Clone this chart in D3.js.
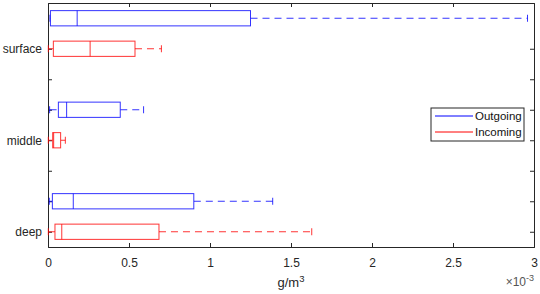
<!DOCTYPE html>
<html>
<head>
<meta charset="utf-8">
<script src="https://cdn.jsdelivr.net/npm/d3@7"></script>
<style>
  body { margin: 0; background: #fff; }
  svg { display: block; font-family: "Liberation Sans", Arial, sans-serif; }
</style>
</head>
<body>
<svg id="chart"></svg>
<script>
/* DATA (values in units of 1e-3 g/m^3) */
const groups = ["surface", "middle", "deep"];
const seriesNames = ["Outgoing", "Incoming"];
const seriesColors = ["#0000ff", "#ff0000"];
// [lower whisker, q1, median, q3, upper whisker]
const outgoing = [
  [0.012, 0.015, 0.18, 1.25, 2.96],
  [0.01, 0.064, 0.115, 0.446, 0.59],
  [0.008, 0.027, 0.156, 0.90, 1.387]
];
const incoming = [
  [0.002, 0.033, 0.26, 0.537, 0.70],
  [0.002, 0.029, 0.035, 0.078, 0.107],
  [0.002, 0.043, 0.085, 0.685, 1.628]
];
// box positions on the category axis (1 = bottom)
const outgoingPos = [8, 5, 2];
const incomingPos = [7, 4, 1];
const yTicks = [1, 2, 3, 4, 5, 6, 7];
const yTickLabels = { 1: "deep", 4: "middle", 7: "surface" };
const xTicks = [0, 0.5, 1, 1.5, 2, 2.5, 3];

/* LAYOUT */
const width = 540, height = 294;
const margin = { top: 3, right: 6, bottom: 47, left: 48 };

const svg = d3.select("#chart").attr("width", width).attr("height", height);

const xScale = d3.scaleLinear()
  .domain([0, 3])
  .range([margin.left, width - margin.right]);

const yScale = d3.scaleLinear()
  .domain([0.5, 8.5])
  .range([height - margin.bottom, margin.top]);

const boxHalf = (yScale(0) - yScale(0.25));
const capHalf = 3.5;

// axes
const axisColor = "#262626";
const bottomAxis = svg.append("g")
  .attr("transform", `translate(0, ${height - margin.bottom})`)
  .call(d3.axisBottom(xScale).tickValues(xTicks).tickSize(-4).tickPadding(9)
    .tickFormat(d => d3.format("")(d)));
const topAxis = svg.append("g")
  .attr("transform", `translate(0, ${margin.top})`)
  .call(d3.axisTop(xScale).tickValues(xTicks).tickSize(-4).tickFormat(""));
const leftAxis = svg.append("g")
  .attr("transform", `translate(${margin.left}, 0)`)
  .call(d3.axisLeft(yScale).tickValues(yTicks).tickSize(-4).tickPadding(6)
    .tickFormat(d => yTickLabels[d] || ""));
const rightAxis = svg.append("g")
  .attr("transform", `translate(${width - margin.right}, 0)`)
  .call(d3.axisRight(yScale).tickValues(yTicks).tickSize(-4).tickFormat(""));

[bottomAxis, topAxis, leftAxis, rightAxis].forEach(g => {
  g.select(".domain").attr("stroke", axisColor).attr("stroke-width", 1);
  g.selectAll(".tick line").attr("stroke", axisColor);
  g.selectAll(".tick text").attr("fill", axisColor).style("font-size", "12px");
});
bottomAxis.selectAll(".tick text").attr("dy", "0.9em");
// hide the tick marks at the axis ends like the reference
bottomAxis.selectAll(".tick").filter(d => d === 0 || d === 3).select("line").remove();
topAxis.selectAll(".tick").filter(d => d === 0 || d === 3).select("line").remove();

// axis labels
svg.append("text")
  .attr("x", 291).attr("y", 287)
  .attr("text-anchor", "middle")
  .attr("fill", axisColor)
  .style("font-size", "13px")
  .html('g/m<tspan dy="-5" style="font-size:9.5px">3</tspan>');

svg.append("text")
  .attr("x", width - margin.right).attr("y", 286)
  .attr("text-anchor", "end")
  .attr("fill", "#555")
  .style("font-size", "12px")
  .html('×10<tspan dy="-5" style="font-size:9px">-3</tspan>');

// boxes
function drawBoxes(data, positions, color, cls) {
  const g = svg.append("g").attr("class", cls)
    .attr("stroke", color).attr("fill", "none").attr("stroke-width", 1)
    .attr("stroke-opacity", 0.8);
  const rows = data.map((d, i) => ({ v: d, p: positions[i] }));

  // whiskers (dashed)
  g.selectAll(".wlo").data(rows).join("line")
    .attr("x1", d => xScale(d.v[0])).attr("x2", d => xScale(d.v[1]))
    .attr("y1", d => yScale(d.p)).attr("y2", d => yScale(d.p))
    .attr("stroke-dasharray", "7,5");
  g.selectAll(".whi").data(rows).join("line")
    .attr("x1", d => xScale(d.v[3])).attr("x2", d => xScale(d.v[4]))
    .attr("y1", d => yScale(d.p)).attr("y2", d => yScale(d.p))
    .attr("stroke-dasharray", "7,5");

  // caps
  g.selectAll(".caplo").data(rows).join("line")
    .attr("x1", d => xScale(d.v[0])).attr("x2", d => xScale(d.v[0]))
    .attr("y1", d => yScale(d.p) - capHalf).attr("y2", d => yScale(d.p) + capHalf);
  g.selectAll(".caphi").data(rows).join("line")
    .attr("x1", d => xScale(d.v[4])).attr("x2", d => xScale(d.v[4]))
    .attr("y1", d => yScale(d.p) - capHalf).attr("y2", d => yScale(d.p) + capHalf);

  // box
  g.selectAll("rect").data(rows).join("rect")
    .attr("x", d => xScale(d.v[1]))
    .attr("width", d => xScale(d.v[3]) - xScale(d.v[1]))
    .attr("y", d => yScale(d.p) - boxHalf)
    .attr("height", boxHalf * 2)
    .attr("fill", "#fff");

  // median
  g.selectAll(".med").data(rows).join("line")
    .attr("x1", d => xScale(d.v[2])).attr("x2", d => xScale(d.v[2]))
    .attr("y1", d => yScale(d.p) - boxHalf).attr("y2", d => yScale(d.p) + boxHalf);
}

drawBoxes(outgoing, outgoingPos, seriesColors[0], "outgoing");
drawBoxes(incoming, incomingPos, seriesColors[1], "incoming");

// legend
const legend = svg.append("g").attr("transform", "translate(431, 108)");
legend.append("rect")
  .attr("width", 93).attr("height", 33)
  .attr("fill", "#fff").attr("stroke", axisColor).attr("stroke-width", 1);
seriesNames.forEach((name, i) => {
  legend.append("line")
    .attr("x1", 4).attr("x2", 42)
    .attr("y1", 8 + i * 16).attr("y2", 8 + i * 16)
    .attr("stroke", seriesColors[i]).attr("stroke-width", 1);
  legend.append("text")
    .attr("x", 44).attr("y", 8 + i * 16)
    .attr("dy", "0.35em")
    .attr("fill", "#111")
    .style("font-size", "11.5px")
    .text(name);
});
</script>
</body>
</html>
